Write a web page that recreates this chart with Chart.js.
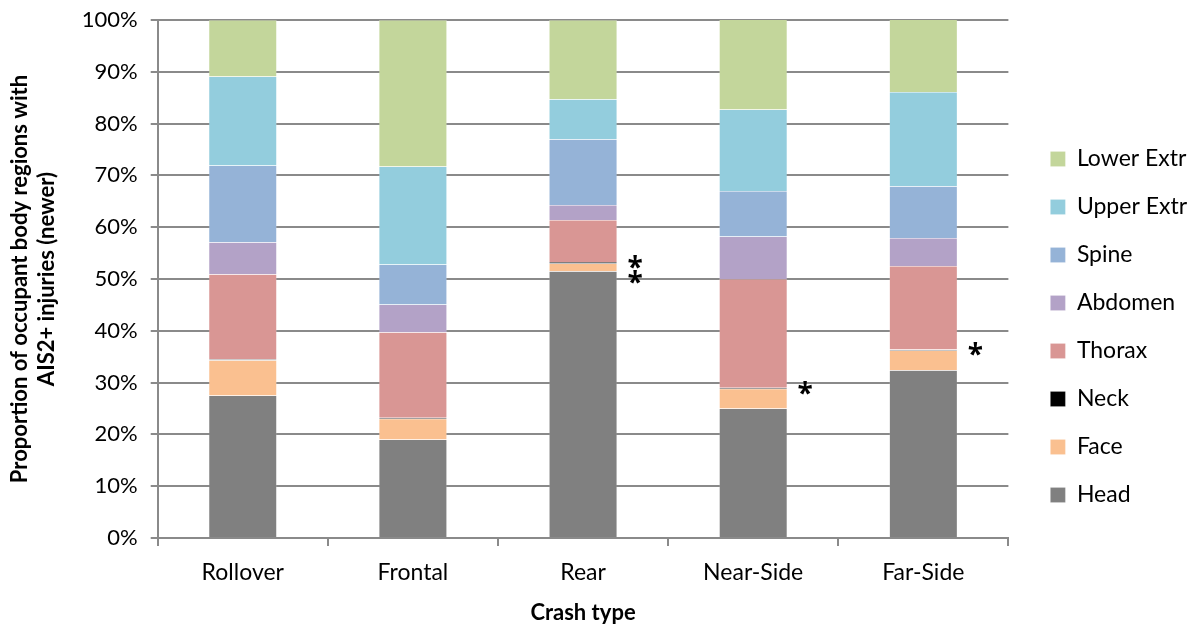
<!DOCTYPE html>
<html>
<head>
<meta charset="utf-8">
<script src="https://cdn.jsdelivr.net/npm/chart.js@4"></script>
<style>
  html, body { margin: 0; padding: 0; background: #fff; }
  #wrap { width: 1196px; height: 629px; }
</style>
</head>
<body>
<div id="wrap"><canvas id="ChartInjuries" width="1196" height="629"></canvas></div>
<script>
// DATA
const crashTypes = ['Rollover', 'Frontal', 'Rear', 'Near-Side', 'Far-Side'];
const head      = [27.5, 19.0, 51.5, 25.0, 32.4];
const face      = [6.8, 4.0, 1.5, 3.8, 3.8];
const neck      = [0.2, 0.2, 0.3, 0.2, 0.2];
const thorax    = [16.4, 16.5, 8.1, 21.0, 16.1];
const abdomen   = [6.2, 5.4, 2.9, 8.2, 5.4];
const spine     = [14.8, 7.7, 12.7, 8.8, 10.0];
const upperExtr = [17.2, 18.9, 7.7, 15.7, 18.2];
const lowerExtr = [10.9, 28.3, 15.3, 17.4, 14.0];

// significance markers (category, value where the * sits)
const starCategories = ['Rear', 'Rear', 'Near-Side', 'Far-Side'];
const starValues     = [53.3, 50.4, 29.0, 36.5];

const FONT = 'Lato';

function ds(label, values, color) {
    return {
        label: label,
        data: values,
        backgroundColor: color,
        borderColor: 'rgba(255,255,255,0.35)',
        borderWidth: 0.5,
        barPercentage: 0.4,
        categoryPercentage: 1.0
    };
}

const data = {
    labels: crashTypes,
    datasets: [
        ds('Head', head, '#808080'),
        ds('Face', face, '#FAC090'),
        ds('Neck', neck, '#000000'),
        ds('Thorax', thorax, '#D99694'),
        ds('Abdomen', abdomen, '#B3A2C7'),
        ds('Spine', spine, '#95B3D7'),
        ds('Upper Extr', upperExtr, '#93CDDD'),
        ds('Lower Extr', lowerExtr, '#C3D69B')
    ]
};

// nudges the legend a bit right/down of where chart.js puts it
const legendShift = {
    id: 'legendShift',
    afterLayout(chart) {
        const lg = chart.legend;
        if (!lg) return;
        lg.left += 17; lg.right += 17;
        lg.top += 14; lg.bottom += 14;
    }
};

// draws the asterisks next to the bars
const starPlugin = {
    id: 'stars',
    afterDatasetsDraw(chart) {
        const ctx = chart.ctx;
        const xs = chart.scales.x, ys = chart.scales.y;
        const half = chart.getDatasetMeta(0).data[0].width / 2;
        ctx.save();
        ctx.fillStyle = '#000';
        ctx.font = 'bold 28px Open Sans';
        ctx.textAlign = 'center';
        ctx.textBaseline = 'middle';
        starCategories.forEach(function (c, i) {
            const x = xs.getPixelForValue(crashTypes.indexOf(c)) + half + 18;
            const y = ys.getPixelForValue(starValues[i]) + 7;
            ctx.fillText('*', x, y);
        });
        ctx.restore();
    }
};

var options = {
    responsive: false,
    animation: false,
    layout: { padding: { top: 0, right: 16, left: 7, bottom: 3 } },
    plugins: {
        tooltip: { enabled: false },
        legend: {
            position: 'right',
            reverse: true,
            labels: {
                color: '#000',
                font: { family: FONT, size: 23 },
                boxWidth: 15,
                boxHeight: 15,
                padding: 25
            }
        }
    },
    scales: {
        x: {
            stacked: true,
            grid: {
                offset: true,
                drawOnChartArea: false,
                color: '#8a8a8a',
                lineWidth: 2,
                tickLength: 8
            },
            border: { color: '#8a8a8a', width: 2 },
            ticks: { color: '#000', font: { family: FONT, size: 23 }, padding: 13 },
            title: {
                display: true,
                text: 'Crash type',
                color: '#000',
                font: { family: FONT, size: 22, weight: 'bold' },
                padding: { top: 0, bottom: 0 }
            }
        },
        y: {
            stacked: true,
            min: 0,
            max: 100,
            afterFit: function (scale) { scale.paddingTop = 20; },
            grid: {
                color: '#8a8a8a',
                lineWidth: 2,
                tickLength: 7
            },
            border: { color: '#8a8a8a', width: 2 },
            ticks: {
                stepSize: 10,
                color: '#000',
                font: { family: FONT, size: 22 },
                padding: 13,
                callback: function (v) { return v + '%'; }
            },
            title: {
                display: true,
                text: ['Proportion of occupant body regions with', 'AIS2+ injuries (newer)'],
                color: '#000',
                font: { family: FONT, size: 22, weight: 'bold' },
                padding: { top: 0, bottom: 9 }
            }
        }
    }
};

var ctx = document.getElementById('ChartInjuries');

var myChart = new Chart(ctx, {
    type: 'bar',
    data: data,
    options: options,
    plugins: [starPlugin, legendShift]
});
</script>
</body>
</html>
